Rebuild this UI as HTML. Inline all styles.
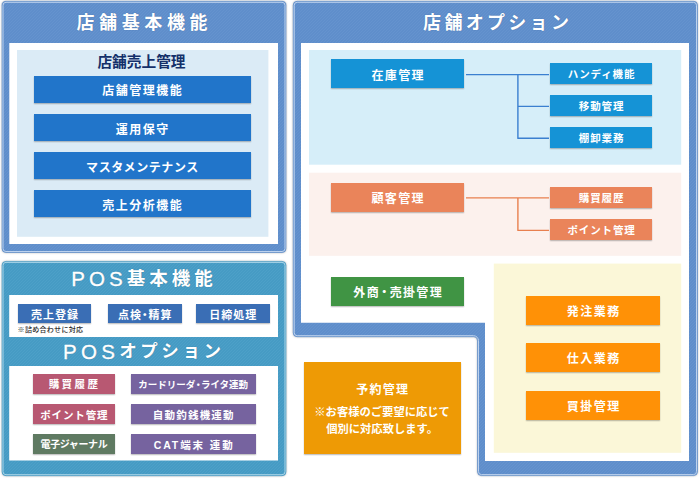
<!DOCTYPE html>
<html lang="ja">
<head>
<meta charset="utf-8">
<title>店舗機能構成図</title>
<style>
html,body{margin:0;padding:0;background:#fff;}
body{width:700px;height:482px;overflow:hidden;position:relative;
  font-family:"Liberation Sans","Noto Sans CJK JP",sans-serif;font-weight:700;color:#fff;}
#bg{position:absolute;left:0;top:0;width:700px;height:482px;display:block;}
.t{position:absolute;display:flex;align-items:center;justify-content:center;white-space:nowrap;
  box-sizing:border-box;line-height:1;}
.b{position:absolute;display:flex;align-items:center;justify-content:center;white-space:nowrap;
  box-sizing:border-box;line-height:1;padding-top:1.5px;box-shadow:0 0.5px 1.2px rgba(0,0,0,0.28);}
.title{font-size:18px;letter-spacing:4.6px;padding-left:4.6px;text-shadow:0 0 1px rgba(40,70,120,0.6);}
.ptitle{font-size:18.5px;letter-spacing:4px;padding-left:4px;text-shadow:0 0 1px rgba(30,80,110,0.6);}
.ptitle i{font-style:normal;font-weight:400;font-size:20.5px;-webkit-text-stroke:0.35px #fff;}
.blue{padding-top:3.5px;background:#2175ca;font-size:12px;letter-spacing:1.5px;padding-left:0.3px;}
.pos{padding-top:4.3px;background:#3a6eb5;font-size:11px;letter-spacing:1px;padding-left:1px;}
.sky{background:#1593d6;}
.sal{background:#ea845a;}
.big{padding-top:3.6px;font-size:12px;letter-spacing:1.3px;padding-left:1.3px;}
.sm{font-size:10.5px;letter-spacing:0.9px;padding-left:0.9px;}
.org{padding-top:3.5px;background:#ff9106;font-size:12px;letter-spacing:1.5px;padding-left:1.5px;}
.rose{background:#b85872;}
.sage{background:#5f7a62;}
.pur{background:#76639f;}
.d{margin:0 -1.75px;}
.opt{font-size:10.5px;letter-spacing:0.9px;padding-left:0.9px;}
</style>
</head>
<body>
<svg id="bg" width="700" height="482" viewBox="0 0 700 482">
  <defs>
    <pattern id="h1" width="3" height="3" patternUnits="userSpaceOnUse">
      <rect width="3" height="3" fill="#5f8ecb"/>
      <rect x="0" y="2" width="1" height="1" fill="#6593ce"/>
      <rect x="1" y="1" width="1" height="1" fill="#6593ce"/>
      <rect x="2" y="0" width="1" height="1" fill="#6593ce"/>
    </pattern>
    <pattern id="h2" width="3" height="3" patternUnits="userSpaceOnUse">
      <rect width="3" height="3" fill="#469bc4"/>
      <rect x="0" y="2" width="1" height="1" fill="#4da0c8"/>
      <rect x="1" y="1" width="1" height="1" fill="#4da0c8"/>
      <rect x="2" y="0" width="1" height="1" fill="#4da0c8"/>
    </pattern>
    <filter id="sh" x="-5%" y="-5%" width="110%" height="110%">
      <feGaussianBlur stdDeviation="1.1"/>
    </filter>
  </defs>

  <!-- panel 1 : 店舗基本機能 -->
  <rect x="2" y="1.3" width="284" height="251.2" rx="4" fill="#555" opacity="0.55" filter="url(#sh)"/>
  <rect x="2" y="1.3" width="284" height="251.2" rx="4" fill="url(#h1)" stroke="#5f8ecb" stroke-width="0.6"/>
  <rect x="3" y="2.3" width="282" height="249.2" rx="3" fill="none" stroke="#bdd2ee" stroke-width="1"/>
  <rect x="9.3" y="43" width="268.7" height="201" fill="#fff"/>
  <rect x="17" y="50" width="251.4" height="186.8" fill="#dbebf6"/>

  <!-- panel 2 : POS -->
  <rect x="2" y="261.4" width="284" height="214.3" rx="4" fill="#555" opacity="0.55" filter="url(#sh)"/>
  <rect x="2" y="261.4" width="284" height="214.3" rx="4" fill="url(#h2)" stroke="#469bc4" stroke-width="0.6"/>
  <rect x="3" y="262.4" width="282" height="212.3" rx="3" fill="none" stroke="#a9d5e8" stroke-width="1"/>
  <rect x="9.2" y="295" width="268.8" height="42" fill="#fff"/>
  <rect x="9.2" y="366" width="268.8" height="94.5" fill="#fff"/>

  <!-- panel 3 : 店舗オプション (L shape) -->
  <path d="M297.20 1.30 H693.50 a4 4 0 0 1 4 4 V471.60 a4 4 0 0 1 -4 4 H481.50 a4 4 0 0 1 -4 -4 V340.70 a4 4 0 0 0 -4 -4 H297.20 a4 4 0 0 1 -4 -4 V5.30 a4 4 0 0 1 4 -4 Z" fill="#555" opacity="0.55" filter="url(#sh)"/>
  <path d="M297.20 1.30 H693.50 a4 4 0 0 1 4 4 V471.60 a4 4 0 0 1 -4 4 H481.50 a4 4 0 0 1 -4 -4 V340.70 a4 4 0 0 0 -4 -4 H297.20 a4 4 0 0 1 -4 -4 V5.30 a4 4 0 0 1 4 -4 Z" fill="url(#h1)" stroke="#5f8ecb" stroke-width="0.6"/>
  <path d="M297.20 2.30 H693.50 a3.0 3.0 0 0 1 3.0 3.0 V471.60 a3.0 3.0 0 0 1 -3.0 3.0 H481.50 a3.0 3.0 0 0 1 -3.0 -3.0 V340.70 a5.0 5.0 0 0 0 -5.0 -5.0 H297.20 a3.0 3.0 0 0 1 -3.0 -3.0 V5.30 a3.0 3.0 0 0 1 3.0 -3.0 Z" fill="none" stroke="#bdd2ee" stroke-width="1"/>
  <path d="M301 43 H689 V461 H485 V322.8 H301 Z" fill="#fff"/>
  <rect x="309" y="50" width="372.2" height="114.7" fill="#d6eef9"/>
  <rect x="309" y="172.7" width="372.2" height="83.1" fill="#fcf1ed"/>
  <rect x="493.8" y="263.6" width="187.4" height="189.2" fill="#fbf7d8"/>

  <!-- connectors -->
  <g fill="none" stroke-width="1.4">
    <path d="M466 74.6 H549 M517.9 74.6 V138.2 M517.3 106.4 H549 M517.3 138.2 H549" stroke="#3b7fd0"/>
    <path d="M466 197.9 H549 M517.9 197.9 V230.4 M517.3 230.4 H549" stroke="#e8804f"/>
  </g>
</svg>

<!-- panel 1 text -->
<div class="t title" style="left:42px;top:11.5px;width:200px;height:22px;">店舗基本機能</div>
<div class="t" style="left:42px;top:52px;width:200px;height:20px;font-size:14.7px;color:#14306a;padding-right:1px;">店舗売上管理</div>
<div class="b blue" style="left:34px;top:76.1px;width:217px;height:27px;">店舗管理機能</div>
<div class="b blue" style="left:34px;top:114.1px;width:217px;height:27px;padding-top:5.5px;">運用保守</div>
<div class="b blue" style="left:34px;top:152.1px;width:217px;height:27px;padding-top:5.5px;letter-spacing:0.6px;padding-left:0;">マスタメンテナンス</div>
<div class="b blue" style="left:34px;top:190.1px;width:217px;height:27px;padding-top:5.5px;">売上分析機能</div>

<!-- panel 2 text -->
<div class="t ptitle" style="left:42px;top:267.6px;width:200px;height:24px;"><i>POS</i>基本機能</div>
<div class="b pos" style="left:17.6px;top:303.7px;width:73.7px;height:19.5px;">売上登録</div>
<div class="b pos" style="left:108px;top:303.7px;width:73.5px;height:19.5px;">点検<span class="d" style="margin:0 -2.75px;">・</span>精算</div>
<div class="b pos" style="left:196px;top:303.7px;width:73.7px;height:19.5px;">日締処理</div>
<div class="t" style="left:17.6px;top:324.5px;width:70px;height:10px;justify-content:flex-start;font-size:7px;letter-spacing:0.3px;color:#2a2a2a;font-weight:500;">※詰め合わせに対応</div>
<div class="t ptitle" style="left:42px;top:340px;width:200px;height:24px;letter-spacing:3.6px;padding-left:3.6px;font-size:17.5px;"><i style="letter-spacing:4.3px;">POS</i>オプション</div>
<div class="b rose opt" style="left:33.2px;top:373.5px;width:81.4px;height:20px;letter-spacing:2.5px;padding-left:1.5px;">購買履歴</div>
<div class="b rose opt" style="left:33.2px;top:404px;width:81.4px;height:20px;">ポイント管理</div>
<div class="b sage opt" style="left:33.2px;top:434.4px;width:81.4px;height:20px;font-size:10px;letter-spacing:-0.4px;padding-left:0;">電子ジャーナル</div>
<div class="b pur opt" style="left:130.6px;top:373.5px;width:125.2px;height:20px;font-size:9.5px;letter-spacing:0;padding-left:0;">カードリーダ<span class="d" style="margin:0 -2px;">・</span>ライタ連動</div>
<div class="b pur opt" style="left:130.6px;top:404px;width:125.2px;height:20px;letter-spacing:1.2px;padding-left:1.2px;">自動釣銭機連動</div>
<div class="b pur opt" style="left:130.6px;top:434.4px;width:125.2px;height:20px;letter-spacing:1.9px;padding-left:1.9px;">CAT端末 連動</div>

<!-- panel 3 text -->
<div class="t title" style="left:396px;top:12px;width:200px;height:22px;letter-spacing:3.3px;padding-left:3.3px;">店舗オプション</div>
<div class="b sky big" style="left:331px;top:59px;width:133px;height:29px;padding-top:4.4px;">在庫管理</div>
<div class="b sky sm" style="left:550.3px;top:63.2px;width:101.7px;height:20.4px;padding-top:2.1px;">ハンディ機能</div>
<div class="b sky sm" style="left:550.3px;top:95.2px;width:101.7px;height:20.4px;padding-top:2.1px;">移動管理</div>
<div class="b sky sm" style="left:550.3px;top:127.2px;width:101.7px;height:20.4px;padding-top:2.1px;">棚卸業務</div>
<div class="b sal big" style="left:331px;top:183px;width:133px;height:29.3px;">顧客管理</div>
<div class="b sal sm" style="left:550.3px;top:187px;width:101.7px;height:21px;">購買履歴</div>
<div class="b sal sm" style="left:550.3px;top:219px;width:101.7px;height:20.5px;">ポイント管理</div>
<div class="b big" style="left:331px;top:277px;width:133px;height:29.3px;background:#409444;">外商<span class="d">・</span>売掛管理</div>
<div class="b org" style="left:526.2px;top:295.7px;width:133.8px;height:29px;">発注業務</div>
<div class="b org" style="left:526.2px;top:343.1px;width:133.8px;height:29.2px;">仕入業務</div>
<div class="b org" style="left:526.2px;top:390.7px;width:133.8px;height:29px;">買掛管理</div>

<div class="b" style="left:303.6px;top:362.2px;width:157px;height:91.5px;background:#ee9a05;"></div>
<div class="t" style="left:303.6px;top:380.6px;width:157px;height:18px;font-size:12px;letter-spacing:1.3px;padding-left:1.3px;">予約管理</div>
<div class="t" style="left:303.6px;top:404.6px;width:157px;height:17px;font-size:11.3px;"><span style="font-weight:400;">※</span>お客様のご要望に応じて</div>
<div class="t" style="left:303.6px;top:421.6px;width:157px;height:17px;font-size:11.3px;">個別に対応致します。</div>
</body>
</html>
